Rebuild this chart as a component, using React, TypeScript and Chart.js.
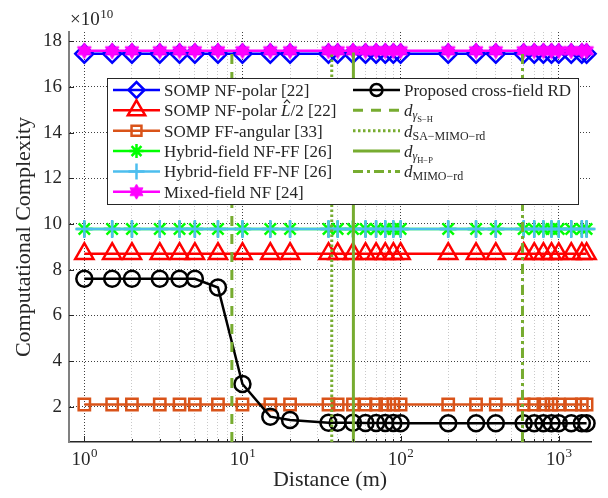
import React, { useEffect, useRef } from 'react';
import { Chart, registerables } from 'chart.js';

Chart.register(...registerables);

// ---------------- data ----------------
const distances = [1, 1.5, 2, 3, 4, 5, 7, 10, 15, 20, 35, 40, 50, 60, 70, 80, 90, 100, 200, 300, 400, 600, 700, 800, 900, 1000, 1200, 1400, 1500];

const sompNfPolar = [17.45, 17.45, 17.45, 17.45, 17.45, 17.45, 17.45, 17.45, 17.45, 17.45, 17.45, 17.45, 17.45, 17.45, 17.45, 17.45, 17.45, 17.45, 17.45, 17.45, 17.45, 17.45, 17.45, 17.45, 17.45, 17.45, 17.45, 17.45, 17.45];
const sompNfPolarHalf = [8.7, 8.7, 8.7, 8.7, 8.7, 8.7, 8.7, 8.7, 8.7, 8.7, 8.7, 8.7, 8.7, 8.7, 8.7, 8.7, 8.7, 8.7, 8.7, 8.7, 8.7, 8.7, 8.7, 8.7, 8.7, 8.7, 8.7, 8.7, 8.7];
const sompFfAngular = [2.1, 2.1, 2.1, 2.1, 2.1, 2.1, 2.1, 2.1, 2.1, 2.1, 2.1, 2.1, 2.1, 2.1, 2.1, 2.1, 2.1, 2.1, 2.1, 2.1, 2.1, 2.1, 2.1, 2.1, 2.1, 2.1, 2.1, 2.1, 2.1];
const hybridNfFf = [9.78, 9.78, 9.78, 9.78, 9.78, 9.78, 9.78, 9.78, 9.78, 9.78, 9.78, 9.78, 9.78, 9.78, 9.78, 9.78, 9.78, 9.78, 9.78, 9.78, 9.78, 9.78, 9.78, 9.78, 9.78, 9.78, 9.78, 9.78, 9.78];
const hybridFfNf = [9.78, 9.78, 9.78, 9.78, 9.78, 9.78, 9.78, 9.78, 9.78, 9.78, 9.78, 9.78, 9.78, 9.78, 9.78, 9.78, 9.78, 9.78, 9.78, 9.78, 9.78, 9.78, 9.78, 9.78, 9.78, 9.78, 9.78, 9.78, 9.78];
const mixedFieldNf = [17.58, 17.58, 17.58, 17.58, 17.58, 17.58, 17.58, 17.58, 17.58, 17.58, 17.58, 17.58, 17.58, 17.58, 17.58, 17.58, 17.58, 17.58, 17.58, 17.58, 17.58, 17.58, 17.58, 17.58, 17.58, 17.58, 17.58, 17.58, 17.58];
const proposedRd = [7.6, 7.6, 7.6, 7.6, 7.6, 7.6, 7.22, 3.0, 1.57, 1.42, 1.3, 1.3, 1.3, 1.29, 1.29, 1.29, 1.29, 1.28, 1.28, 1.28, 1.28, 1.28, 1.28, 1.28, 1.28, 1.28, 1.28, 1.28, 1.28];

const dGammaSH = 8.57;
const dSaMimoRd = 36.7;
const dGammaHP = 50.3;
const dMimoRd = 590;
const vLineTop = 17.5;

const yTickValues = [2, 4, 6, 8, 10, 12, 14, 16, 18];
const xDecades = [1, 10, 100, 1000];
const xDecadeExponents = ['0', '1', '2', '3'];
const yExponent = '10';

const X_MIN = 0.8;
const X_MAX = 1600;
const Y_MIN = 0.46;
const Y_MAX = 18.4;

// ---------------- styles ----------------
const SERIF = '"Liberation Serif", "Times New Roman", serif';
const TXT = '#262626';
const C_BLUE = '#0000FF';
const C_RED = '#FF0000';
const C_ORANGE = '#D95319';
const C_GREEN = '#00FF00';
const C_CYAN = '#4DBEEE';
const C_MAGENTA = '#FF00FF';
const C_BLACK = '#000000';
const C_VLINE = '#77AC30';

function makeHexagram(R: number, color: string) {
  const size = Math.ceil(R * 2 + 4);
  const c = document.createElement('canvas');
  c.width = size;
  c.height = size;
  const g = c.getContext('2d')!;
  const cx = size / 2;
  const cy = size / 2;
  const r = R / Math.sqrt(3);
  g.beginPath();
  for (let i = 0; i < 12; i++) {
    const a = -Math.PI / 2 + (i * Math.PI) / 6;
    const rr = i % 2 === 0 ? R : r;
    const px = cx + rr * Math.cos(a);
    const py = cy + rr * Math.sin(a);
    if (i === 0) g.moveTo(px, py);
    else g.lineTo(px, py);
  }
  g.closePath();
  g.fillStyle = color;
  g.fill();
  g.lineWidth = 1;
  g.strokeStyle = color;
  g.stroke();
  return c;
}

type MarkerKind = 'rectRot' | 'triangle' | 'rect' | 'star' | 'cross' | 'circle' | 'hex' | 'none';

function drawMarker(ctx: CanvasRenderingContext2D, kind: MarkerKind, x: number, y: number, r: number, color: string, lw: number, hex?: HTMLCanvasElement) {
  ctx.save();
  ctx.strokeStyle = color;
  ctx.lineWidth = lw;
  ctx.beginPath();
  if (kind === 'rectRot') {
    ctx.moveTo(x - r, y);
    ctx.lineTo(x, y - r);
    ctx.lineTo(x + r, y);
    ctx.lineTo(x, y + r);
    ctx.closePath();
  } else if (kind === 'triangle') {
    for (let i = 0; i < 3; i++) {
      const a = (i * 2 * Math.PI) / 3;
      const px = x + Math.sin(a) * r;
      const py = y - Math.cos(a) * r;
      if (i === 0) ctx.moveTo(px, py);
      else ctx.lineTo(px, py);
    }
    ctx.closePath();
  } else if (kind === 'rect') {
    const s = Math.SQRT1_2 * r;
    ctx.rect(x - s, y - s, 2 * s, 2 * s);
  } else if (kind === 'star') {
    ctx.moveTo(x - r, y); ctx.lineTo(x + r, y);
    ctx.moveTo(x, y - r); ctx.lineTo(x, y + r);
    const d = r * Math.SQRT1_2;
    ctx.moveTo(x - d, y - d); ctx.lineTo(x + d, y + d);
    ctx.moveTo(x - d, y + d); ctx.lineTo(x + d, y - d);
  } else if (kind === 'cross') {
    ctx.moveTo(x - r, y); ctx.lineTo(x + r, y);
    ctx.moveTo(x, y - r); ctx.lineTo(x, y + r);
  } else if (kind === 'circle') {
    ctx.arc(x, y, r, 0, Math.PI * 2);
  }
  if (kind !== 'hex' && kind !== 'none') ctx.stroke();
  if (kind === 'hex' && hex) {
    ctx.drawImage(hex, x - hex.width / 2, y - hex.height / 2);
  }
  ctx.restore();
}

type Seg = { t: string; size: number; italic?: boolean; dy?: number; hat?: boolean };

function drawRich(ctx: CanvasRenderingContext2D, segs: Seg[], x: number, baseline: number) {
  let cx = x;
  ctx.textAlign = 'left';
  ctx.textBaseline = 'alphabetic';
  for (const s of segs) {
    ctx.font = `${s.italic ? 'italic ' : ''}${s.size}px ${SERIF}`;
    const by = baseline + (s.dy || 0);
    ctx.fillText(s.t, cx, by);
    const w = ctx.measureText(s.t).width;
    if (s.hat) {
      const top = by - s.size * 0.78;
      ctx.save();
      ctx.strokeStyle = TXT;
      ctx.lineWidth = 1.1;
      ctx.beginPath();
      ctx.moveTo(cx + w * 0.3, top);
      ctx.lineTo(cx + w * 0.62, top - 3.2);
      ctx.lineTo(cx + w * 0.94, top);
      ctx.stroke();
      ctx.restore();
    }
    cx += w;
  }
  return cx;
}

const App: React.FC = () => {
  const canvasRef = useRef<HTMLCanvasElement | null>(null);

  useEffect(() => {
    const canvas = canvasRef.current;
    if (!canvas) return;
    const hexImg = makeHexagram(8, C_MAGENTA);
    const hexLegend = makeHexagram(7.5, C_MAGENTA);

    const xGrid: number[] = [];
    for (const d of [1, 10, 100, 1000]) {
      for (let m = 1; m <= 9; m++) {
        const v = m * d;
        if (v >= X_MIN && v <= X_MAX) xGrid.push(v);
      }
    }
    const isDecade = (v: number) => Math.abs(Math.log10(v) - Math.round(Math.log10(v))) < 1e-9;

    const series = (label: string, ys: number[], color: string, pointStyle: any, r: number, order: number) => ({
      label,
      data: distances.map((d, i) => ({ x: d, y: ys[i] })),
      borderColor: color,
      backgroundColor: 'rgba(0,0,0,0)',
      borderWidth: 2.5,
      pointStyle,
      pointRadius: r,
      pointHoverRadius: r,
      pointBorderColor: color,
      pointBackgroundColor: 'rgba(0,0,0,0)',
      pointBorderWidth: 2.5,
      tension: 0,
      order,
      clip: false as any,
    });

    const vline = (label: string, xv: number, dash: number[]) => ({
      label,
      data: [{ x: xv, y: Y_MIN }, { x: xv, y: vLineTop }],
      borderColor: C_VLINE,
      backgroundColor: 'rgba(0,0,0,0)',
      borderWidth: 3,
      borderDash: dash,
      pointRadius: 0,
      pointHoverRadius: 0,
      order: 0,
      clip: false as any,
    });

    const legendPlugin = {
      id: 'customOverlay',
      afterDatasetsDraw(chart: any) {
        const { ctx, chartArea: ca, scales } = chart;
        const xs = scales.x;
        const ys = scales.y;
        ctx.save();
        // inward ticks
        ctx.strokeStyle = TXT;
        ctx.lineWidth = 1;
        for (const v of yTickValues) {
          const py = Math.round(ys.getPixelForValue(v)) + 0.5;
          ctx.beginPath();
          ctx.moveTo(ca.left, py);
          ctx.lineTo(ca.left + 5, py);
          ctx.stroke();
        }
        for (const v of xGrid) {
          const px = Math.round(xs.getPixelForValue(v)) + 0.5;
          const len = isDecade(v) ? 6 : 3;
          ctx.beginPath();
          ctx.moveTo(px, ca.bottom);
          ctx.lineTo(px, ca.bottom - len);
          ctx.stroke();
        }

        // legend box
        const bx = 107.5, by = 78.5, bw = 471, bh = 126;
        ctx.fillStyle = '#FFFFFF';
        ctx.fillRect(bx, by, bw, bh);
        ctx.strokeStyle = TXT;
        ctx.lineWidth = 1;
        ctx.strokeRect(bx, by, bw, bh);

        const rowY = (i: number) => 90 + 20.35 * i;
        const col1 = [
          { color: C_BLUE, kind: 'rectRot' as MarkerKind, r: 8, segs: [{ t: 'SOMP NF-polar [22]', size: 17 }] },
          { color: C_RED, kind: 'triangle' as MarkerKind, r: 10, segs: [{ t: 'SOMP NF-polar ', size: 17 }, { t: 'L', size: 17, italic: true, hat: true }, { t: '/2 [22]', size: 17 }] },
          { color: C_ORANGE, kind: 'rect' as MarkerKind, r: 7, segs: [{ t: 'SOMP FF-angular [33]', size: 17 }] },
          { color: C_GREEN, kind: 'star' as MarkerKind, r: 7, segs: [{ t: 'Hybrid-field NF-FF [26]', size: 17 }] },
          { color: C_CYAN, kind: 'cross' as MarkerKind, r: 8, segs: [{ t: 'Hybrid-field FF-NF [26]', size: 17 }] },
          { color: C_MAGENTA, kind: 'hex' as MarkerKind, r: 8, segs: [{ t: 'Mixed-field NF [24]', size: 17 }] },
        ];
        col1.forEach((e, i) => {
          const y = rowY(i);
          ctx.save();
          ctx.strokeStyle = e.color;
          ctx.lineWidth = 2.5;
          ctx.beginPath();
          ctx.moveTo(113, y);
          ctx.lineTo(160, y);
          ctx.stroke();
          ctx.restore();
          drawMarker(ctx, e.kind, 136.5, y, e.r, e.color, 2.5, hexLegend);
          ctx.fillStyle = TXT;
          drawRich(ctx, e.segs as Seg[], 164, y + 6);
        });

        const col2 = [
          { dash: null as number[] | null, segs: [{ t: 'Proposed cross-field RD', size: 17 }] },
          { dash: [10, 8], segs: [{ t: 'd', size: 17, italic: true }, { t: 'γ', size: 12, italic: true, dy: 3 }, { t: 'S−H', size: 8.5, dy: 6 }] },
          { dash: [2.5, 2.5], segs: [{ t: 'd', size: 17, italic: true }, { t: 'SA−MIMO−rd', size: 12, dy: 3 }] },
          { dash: [], segs: [{ t: 'd', size: 17, italic: true }, { t: 'γ', size: 12, italic: true, dy: 3 }, { t: 'H−P', size: 8.5, dy: 6 }] },
          { dash: [10, 4, 3, 4], segs: [{ t: 'd', size: 17, italic: true }, { t: 'MIMO−rd', size: 12, dy: 3 }] },
        ];
        col2.forEach((e, i) => {
          const y = rowY(i);
          ctx.save();
          if (e.dash === null) {
            ctx.strokeStyle = C_BLACK;
            ctx.lineWidth = 2.5;
          } else {
            ctx.strokeStyle = C_VLINE;
            ctx.lineWidth = 3;
            ctx.setLineDash(e.dash);
          }
          ctx.beginPath();
          ctx.moveTo(353, y);
          ctx.lineTo(400, y);
          ctx.stroke();
          ctx.restore();
          if (e.dash === null) drawMarker(ctx, 'circle', 376.5, y, 6, C_BLACK, 2.5);
          ctx.fillStyle = TXT;
          drawRich(ctx, e.segs as Seg[], 404, y + 6);
        });
        ctx.restore();
      },
      afterDraw(chart: any) {
        const { ctx, chartArea: ca, scales } = chart;
        const xs = scales.x;
        ctx.save();
        ctx.fillStyle = TXT;
        // x tick labels 10^k
        xDecades.forEach((v, i) => {
          const px = xs.getPixelForValue(v);
          ctx.font = `19px ${SERIF}`;
          const wb = ctx.measureText('10').width;
          ctx.font = `13px ${SERIF}`;
          const ws = ctx.measureText(xDecadeExponents[i]).width;
          const x0 = px - (wb + ws) / 2;
          ctx.textAlign = 'left';
          ctx.textBaseline = 'alphabetic';
          ctx.font = `19px ${SERIF}`;
          ctx.fillText('10', x0, 465);
          ctx.font = `13px ${SERIF}`;
          ctx.fillText(xDecadeExponents[i], x0 + wb + 0.5, 457);
        });
        // axis titles
        ctx.font = `22px ${SERIF}`;
        ctx.textAlign = 'center';
        ctx.textBaseline = 'alphabetic';
        ctx.fillText('Distance (m)', (ca.left + ca.right) / 2, 486);
        ctx.save();
        ctx.translate(29.5, (ca.top + ca.bottom) / 2);
        ctx.rotate(-Math.PI / 2);
        ctx.fillText('Computational Complexity', 0, 0);
        ctx.restore();
        // exponent
        ctx.textAlign = 'left';
        ctx.font = `19px ${SERIF}`;
        ctx.fillText('×10', 70, 25);
        const w = ctx.measureText('×10').width;
        ctx.font = `13px ${SERIF}`;
        ctx.fillText(yExponent, 70 + w + 0.5, 18);
        ctx.restore();
      },
    };

    const chart = new Chart(canvas, {
      type: 'line',
      data: {
        datasets: [
          vline('dγS-H', dGammaSH, [10, 8]) as any,
          vline('dSA-MIMO-rd', dSaMimoRd, [2.5, 2.5]) as any,
          vline('dγH-P', dGammaHP, []) as any,
          vline('dMIMO-rd', dMimoRd, [10, 4, 3, 4]) as any,
          series('Proposed cross-field RD', proposedRd, C_BLACK, 'circle', 8, 1),
          series('Mixed-field NF [24]', mixedFieldNf, C_MAGENTA, hexImg, 8, 2),
          series('Hybrid-field FF-NF [26]', hybridFfNf, C_CYAN, 'cross', 9, 3),
          series('Hybrid-field NF-FF [26]', hybridNfFf, C_GREEN, 'star', 8, 4),
          series('SOMP FF-angular [33]', sompFfAngular, C_ORANGE, 'rect', 8, 5),
          series('SOMP NF-polar L/2 [22]', sompNfPolarHalf, C_RED, 'triangle', 10.5, 6),
          series('SOMP NF-polar [22]', sompNfPolar, C_BLUE, 'rectRot', 9, 7),
        ],
      },
      options: {
        animation: false,
        responsive: false,
        maintainAspectRatio: false,
        devicePixelRatio: 1,
        layout: { padding: { top: 32, right: 17, left: 0, bottom: 0 } },
        plugins: { legend: { display: false }, tooltip: { enabled: false } },
        scales: {
          x: {
            type: 'logarithmic',
            min: X_MIN,
            max: X_MAX,
            afterBuildTicks: (s: any) => {
              s.ticks = xGrid.map((v) => ({ value: v }));
            },
            afterFit: (s: any) => {
              s.height = 56;
            },
            ticks: { display: false },
            grid: {
              drawTicks: false,
              lineWidth: 1,
              color: (c: any) => (c.tick && isDecade(c.tick.value) ? 'rgba(30,30,30,0.85)' : 'rgba(60,60,60,0.28)'),
            },
            border: { display: true, color: TXT, width: 1.5, dash: [1, 2] },
          },
          y: {
            type: 'linear',
            min: Y_MIN,
            max: Y_MAX,
            afterBuildTicks: (s: any) => {
              s.ticks = yTickValues.map((v) => ({ value: v }));
            },
            afterFit: (s: any) => {
              s.width = 69;
            },
            ticks: {
              color: TXT,
              padding: 7,
              font: { family: SERIF, size: 19 },
              callback: (v: any) => String(v),
            },
            grid: { drawTicks: false, lineWidth: 1, color: 'rgba(30,30,30,0.85)' },
            border: { display: true, color: '#808080', width: 2, dash: [1, 2] },
          },
        },
      } as any,
      plugins: [legendPlugin],
    });

    return () => {
      chart.destroy();
    };
  }, []);

  return (
    <div style={{ position: 'absolute', left: 0, top: 0, width: 608, height: 498, background: '#fff' }}>
      <canvas ref={canvasRef} width={608} height={498} style={{ display: 'block', width: 608, height: 498 }} />
    </div>
  );
};

export default App;
